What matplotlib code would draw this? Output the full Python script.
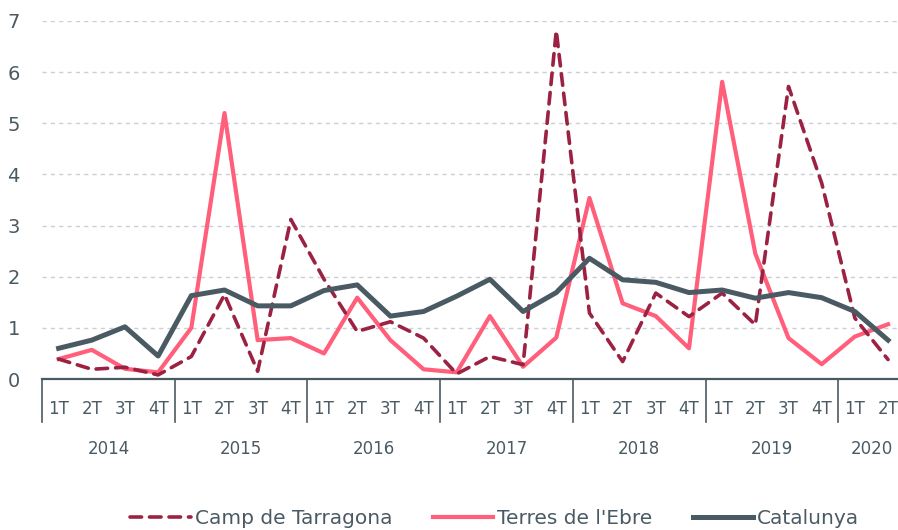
import numpy as np
import matplotlib as mpl
mpl.use('Agg')
import matplotlib.pyplot as plt

years = ['2014', '2015', '2016', '2017', '2018', '2019', '2020']
quarters = ['1T', '2T', '3T', '4T']

camp_tarragona = [0.39, 0.19, 0.23, 0.08, 0.44, 1.65, 0.15, 3.12, 1.95, 0.93, 1.12, 0.80,
                  0.10, 0.44, 0.28, 6.81, 1.29, 0.34, 1.68, 1.22, 1.68, 1.06, 5.72, 3.83,
                  1.19, 0.38]
terres_ebre = [0.39, 0.57, 0.20, 0.13, 1.00, 5.20, 0.76, 0.80, 0.50, 1.59, 0.76, 0.19,
               0.13, 1.23, 0.24, 0.81, 3.54, 1.48, 1.23, 0.60, 5.81, 2.45, 0.80, 0.29,
               0.83, 1.07]
catalunya = [0.60, 0.76, 1.02, 0.45, 1.63, 1.74, 1.43, 1.43, 1.73, 1.84, 1.23, 1.32,
             1.62, 1.95, 1.32, 1.69, 2.36, 1.94, 1.89, 1.69, 1.74, 1.58, 1.69, 1.59,
             1.32, 0.76]

TXT = '#4a5a63'
plt.rcParams['font.family'] = ['DejaVu Sans']

fig = plt.figure(figsize=(8.98, 5.30), dpi=100)
ax = fig.add_axes([0.0468, 0.2849, 0.9532, 0.6755])

n = len(catalunya)
x = np.arange(n)

# grid
for v in range(1, 8):
    ax.axhline(v, color='#c9cfd3', lw=1, ls=(0, (3, 3)), zorder=0)

ax.plot(x, camp_tarragona, color='#9b2242', lw=2.6, ls=(0, (3.2, 2.2)),
        dash_capstyle='round', label='Camp de Tarragona', zorder=3)
ax.plot(x, terres_ebre, color='#ff5f7a', lw=3.0, label="Terres de l'Ebre", zorder=2)
ax.plot(x, catalunya, color='#4a5a63', lw=3.6, label='Catalunya', zorder=4)

ax.set_xlim(-0.5, 25.3)
ax.set_ylim(0, 7)
ax.set_yticks(range(0, 8))
ax.tick_params(axis='y', length=0, pad=16, labelsize=14, labelcolor=TXT)
ax.set_xticks([])
for s in ['top', 'right', 'left']:
    ax.spines[s].set_visible(False)
ax.spines['bottom'].set_color(TXT)
ax.spines['bottom'].set_linewidth(1.6)

# quarter labels and year groups
tr = ax.get_xaxis_transform()
for i in range(n):
    ax.text(i, -0.083, quarters[i % 4], transform=tr, ha='center', va='center',
            fontsize=12, color=TXT)
for k in range(0, n, 4):
    ax.plot([k - 0.5, k - 0.5], [0, -0.12], transform=tr, color=TXT, lw=1.2,
            clip_on=False)
for j, y in enumerate(years):
    start = j * 4
    end = min(start + 4, n)
    ax.text((start + end - 1) / 2, -0.195, y, transform=tr, ha='center', va='center',
            fontsize=12, color=TXT)

leg = fig.legend(loc='lower center', bbox_to_anchor=(0.551, -0.03), ncol=3, frameon=False,
                 fontsize=14.5, handlelength=3.0, handletextpad=0.2, columnspacing=2.0)
for t in leg.get_texts():
    t.set_color(TXT)

fig.savefig('out.png', dpi=100)
